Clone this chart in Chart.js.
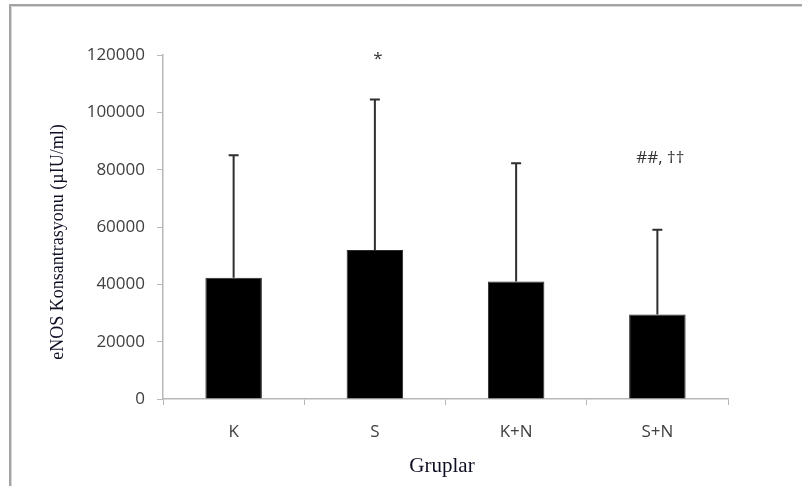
<!DOCTYPE html>
<html>
<head>
<meta charset="utf-8">
<script src="https://cdn.jsdelivr.net/npm/chart.js@4/dist/chart.umd.min.js"></script>
<style>
  html, body { margin: 0; padding: 0; background: #ffffff; }
  #wrap { position: relative; width: 802px; height: 486px; }
  canvas { display: block; }
</style>
</head>
<body>
<div id="wrap"><canvas id="c" width="802" height="486"></canvas></div>
<script>
// Groups and eNOS concentration (µIU/ml): mean and upper SD
const groups = ['K', 'S', 'K+N', 'S+N'];
const means = [42300, 52000, 41000, 29500];
const sdUpper = [85000, 104500, 82200, 59000];
// Significance marks and the value level each is written at
const sigMarks = ['', '*', '', '##, ††'];
const sigLevels = [null, 118500, null, 84000];
const yTicks = [0, 20000, 40000, 60000, 80000, 100000, 120000];

const yTitle = 'eNOS Konsantrasyonu (µIU/ml)';
const xTitle = 'Gruplar';

const tickFont = { family: 'Open Sans', size: 17 };

// Outer frame lines (top and left edges)
const framePlugin = {
  id: 'frame',
  beforeDraw(chart) {
    const ctx = chart.ctx;
    ctx.save();
    ctx.fillStyle = '#ffffff';
    ctx.fillRect(0, 0, chart.width, chart.height);
    ctx.strokeStyle = '#a3a3a3';
    ctx.lineWidth = 2;
    ctx.beginPath();
    ctx.moveTo(10, chart.height);
    ctx.lineTo(10, 5);
    ctx.lineTo(chart.width, 5);
    ctx.stroke();
    ctx.strokeStyle = '#d6d6d6';
    ctx.lineWidth = 1;
    ctx.beginPath();
    ctx.moveTo(11.5, chart.height);
    ctx.lineTo(11.5, 6.5);
    ctx.lineTo(chart.width, 6.5);
    ctx.stroke();
    ctx.restore();
  }
};

// Upper SD whiskers and significance marks, placed through the chart scales
const errorPlugin = {
  id: 'errorBars',
  afterDatasetsDraw(chart) {
    const ctx = chart.ctx;
    const meta = chart.getDatasetMeta(0);
    const y = chart.scales.y;
    ctx.save();
    meta.data.forEach((bar, i) => {
      const x = bar.x;
      const yTop = y.getPixelForValue(sdUpper[i]);
      const yMean = y.getPixelForValue(means[i]);
      ctx.strokeStyle = '#2e2e2e';
      ctx.lineWidth = 2;
      ctx.beginPath();
      ctx.moveTo(x, yMean);
      ctx.lineTo(x, yTop);
      ctx.moveTo(x - 5, yTop);
      ctx.lineTo(x + 5, yTop);
      ctx.stroke();
      if (sigMarks[i]) {
        ctx.fillStyle = '#333333';
        ctx.font = '17px "Open Sans"';
        ctx.textAlign = 'center';
        ctx.textBaseline = 'middle';
        ctx.fillText(sigMarks[i], x + 3, y.getPixelForValue(sigLevels[i]));
      }
    });
    ctx.restore();
  }
};

// Axis titles in a serif face
const titlePlugin = {
  id: 'axisTitles',
  afterDraw(chart) {
    const ctx = chart.ctx;
    ctx.save();
    ctx.fillStyle = '#0f0f24';
    ctx.textAlign = 'center';
    ctx.textBaseline = 'middle';
    ctx.font = '18px "Liberation Serif"';
    ctx.translate(58, 242);
    ctx.rotate(-Math.PI / 2);
    ctx.fillText(yTitle, 0, 0);
    ctx.restore();
    ctx.save();
    ctx.fillStyle = '#0f0f24';
    ctx.textAlign = 'center';
    ctx.textBaseline = 'middle';
    ctx.font = '21px "Liberation Serif"';
    ctx.fillText(xTitle, 442, 466);
    ctx.restore();
  }
};

new Chart(document.getElementById('c'), {
  type: 'bar',
  data: {
    labels: groups,
    datasets: [{
      data: means,
      backgroundColor: '#000000',
      borderColor: '#2a2a2a',
      borderWidth: 1,
      barPercentage: 0.4,
      categoryPercentage: 1.0
    }]
  },
  options: {
    responsive: false,
    animation: false,
    devicePixelRatio: 1,
    layout: { padding: { left: 0, top: 55, right: 74, bottom: 0 } },
    plugins: {
      legend: { display: false },
      tooltip: { enabled: false }
    },
    scales: {
      x: {
        afterFit(s) { s.height = 87; },
        grid: {
          display: true,
          drawOnChartArea: false,
          drawTicks: true,
          tickLength: 6,
          color: '#b8b8b8',
          offset: true
        },
        border: { display: true, color: '#b8b8b8', width: 1.5 },
        ticks: { color: '#404040', font: tickFont, padding: 17 }
      },
      y: {
        min: 0,
        max: 120000,
        afterFit(s) { s.width = 163; },
        afterBuildTicks(s) { s.ticks = yTicks.map(v => ({ value: v })); },
        grid: {
          display: true,
          drawOnChartArea: false,
          drawTicks: true,
          tickLength: 6,
          color: '#b8b8b8'
        },
        border: { display: true, color: '#b8b8b8', width: 1.5 },
        ticks: {
          color: '#404040',
          font: tickFont,
          padding: 12,
          callback: v => String(v)
        }
      }
    }
  },
  plugins: [framePlugin, errorPlugin, titlePlugin]
});
</script>
</body>
</html>
